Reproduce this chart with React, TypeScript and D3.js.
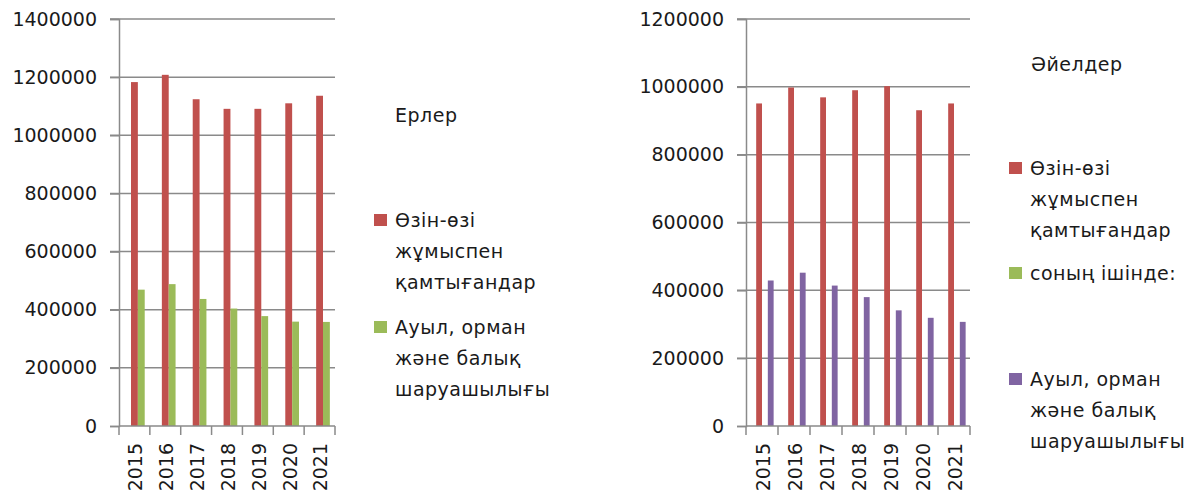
import React, { useEffect, useRef } from 'react';
import * as d3 from 'd3';

// Data
const years = ['2015', '2016', '2017', '2018', '2019', '2020', '2021'];

const menSelfEmployed = [1183000, 1208000, 1124000, 1091000, 1091000, 1110000, 1136000];
const menAgriculture = [469000, 488000, 437000, 404000, 378000, 359000, 358000];

const womenSelfEmployed = [951000, 998000, 969000, 990000, 1002000, 931000, 951000];
const womenAgriculture = [429000, 452000, 414000, 380000, 341000, 319000, 307000];

const seriesSelf = ['Өзін-өзі', 'жұмыспен', 'қамтығандар'];
const seriesSub = ['соның ішінде:'];
const seriesAgri = ['Ауыл, орман', 'және балық', 'шаруашылығы'];

const menTitle = 'Ерлер';
const womenTitle = 'Әйелдер';

const menTicks = [0, 200000, 400000, 600000, 800000, 1000000, 1200000, 1400000];
const womenTicks = [0, 200000, 400000, 600000, 800000, 1000000, 1200000];

const colors = { self: '#C0504D', sub: '#9BBB59', agri: '#9BBB59', agriW: '#8064A2' };

const FONT = '"DejaVu Sans", Verdana, sans-serif';
const GRID = '#8a8a8a';
const TEXT = '#1a1a1a';

type Series = { key: string; values: number[]; color: string };

type LegendItem = { color: string; lines: string[]; y: number };

const drawChart = (
  svg: d3.Selection<SVGSVGElement, unknown, null, undefined>,
  opts: {
    x0: number; x1: number; yTop: number; yBottom: number;
    max: number; ticks: number[]; slots: string[]; series: Series[];
    title: string; titleX: number; titleY: number;
    legendX: number; legend: LegendItem[];
  }
) => {
  const g = svg.append('g');
  const xScale = d3.scaleBand().domain(years).range([opts.x0, opts.x1]).padding(0);
  const yScale = d3.scaleLinear().domain([0, opts.max]).range([opts.yBottom, opts.yTop]);

  // gridlines
  g.append('g')
    .selectAll('line')
    .data(opts.ticks.filter(t => t > 0))
    .join('line')
    .attr('x1', opts.x0 - 9)
    .attr('x2', opts.x1)
    .attr('y1', d => yScale(d))
    .attr('y2', d => yScale(d))
    .attr('stroke', GRID)
    .attr('stroke-width', 1.5);

  // bars (first slot is an empty placeholder, as in the source chart)
  const bw = xScale.bandwidth();
  const w = bw / (opts.slots.length + 1.5);
  const inner = d3.scaleBand().domain(opts.slots).range([0.75 * w, bw - 0.75 * w]).padding(0);

  opts.series.forEach(s => {
    g.append('g')
      .selectAll('rect')
      .data(s.values)
      .join('rect')
      .attr('x', (_, i) => xScale(years[i])! + inner(s.key)!)
      .attr('y', d => yScale(d))
      .attr('width', inner.bandwidth())
      .attr('height', d => yScale(0) - yScale(d))
      .attr('fill', s.color);
  });

  // y axis
  const yAxis = g.append('g')
    .attr('transform', `translate(${opts.x0},0)`)
    .call(d3.axisLeft(yScale).tickValues(opts.ticks).tickFormat(d3.format('d')).tickSize(9).tickPadding(13));
  yAxis.select('.domain').attr('stroke', GRID).attr('stroke-width', 1.5);
  yAxis.selectAll('.tick line').attr('stroke', GRID).attr('stroke-width', 1.5);
  yAxis.selectAll('.tick text')
    .attr('fill', TEXT)
    .style('font-family', FONT)
    .style('font-size', '19px');

  // x axis
  const xAxis = g.append('g').attr('transform', `translate(0,${opts.yBottom})`);
  xAxis.append('line')
    .attr('x1', opts.x0).attr('x2', opts.x1)
    .attr('stroke', GRID).attr('stroke-width', 1.5);
  xAxis.selectAll('line.tk')
    .data(d3.range(years.length + 1))
    .join('line')
    .attr('class', 'tk')
    .attr('x1', i => opts.x0 + i * bw)
    .attr('x2', i => opts.x0 + i * bw)
    .attr('y1', 0).attr('y2', 9)
    .attr('stroke', GRID).attr('stroke-width', 1.5);
  xAxis.selectAll('text')
    .data(years)
    .join('text')
    .attr('transform', d => `translate(${xScale(d)! + bw / 2 + 1},17) rotate(-90)`)
    .attr('text-anchor', 'end')
    .attr('dy', '0.36em')
    .attr('fill', TEXT)
    .style('font-family', FONT)
    .style('font-size', '19px')
    .text(d => d);

  // title
  g.append('text')
    .attr('x', opts.titleX).attr('y', opts.titleY)
    .attr('dy', '0.36em')
    .attr('fill', TEXT)
    .style('font-family', FONT)
    .style('font-size', '19px')
    .style('letter-spacing', '0.5px')
    .text(opts.title);

  // legend
  opts.legend.forEach(item => {
    g.append('rect')
      .attr('x', opts.legendX).attr('y', item.y - 6)
      .attr('width', 13).attr('height', 12)
      .attr('fill', item.color);
    g.append('g')
      .selectAll('text')
      .data(item.lines)
      .join('text')
      .attr('x', opts.legendX + 21)
      .attr('y', (_, i) => item.y + i * 31)
      .attr('dy', '0.36em')
      .attr('fill', TEXT)
      .style('font-family', FONT)
      .style('font-size', '19px')
      .style('letter-spacing', '0.5px')
      .text(d => d);
  });
};

const App: React.FC = () => {
  const svgRef = useRef<SVGSVGElement>(null);

  useEffect(() => {
    if (!svgRef.current) return;
    const svg = d3.select(svgRef.current);
    svg.selectAll('*').remove();

    drawChart(svg, {
      x0: 119, x1: 335, yTop: 19, yBottom: 426,
      max: 1400000, ticks: menTicks,
      slots: ['_', 'self', 'agri'],
      series: [
        { key: 'self', values: menSelfEmployed, color: colors.self },
        { key: 'agri', values: menAgriculture, color: colors.agri },
      ],
      title: menTitle, titleX: 395, titleY: 115,
      legendX: 374,
      legend: [
        { color: colors.self, lines: seriesSelf, y: 220 },
        { color: colors.agri, lines: seriesAgri, y: 327 },
      ],
    });

    drawChart(svg, {
      x0: 746, x1: 970, yTop: 19, yBottom: 426,
      max: 1200000, ticks: womenTicks,
      slots: ['_', 'self', 'sub', 'agri'],
      series: [
        { key: 'self', values: womenSelfEmployed, color: colors.self },
        { key: 'agri', values: womenAgriculture, color: colors.agriW },
      ],
      title: womenTitle, titleX: 1031, titleY: 64,
      legendX: 1009,
      legend: [
        { color: colors.self, lines: seriesSelf, y: 168 },
        { color: colors.sub, lines: seriesSub, y: 273 },
        { color: colors.agriW, lines: seriesAgri, y: 379 },
      ],
    });
  }, []);

  return (
    <div style={{ position: 'absolute', left: 0, top: 0, background: '#fff' }}>
      <svg ref={svgRef} width={1193} height={494} />
    </div>
  );
};

export default App;
